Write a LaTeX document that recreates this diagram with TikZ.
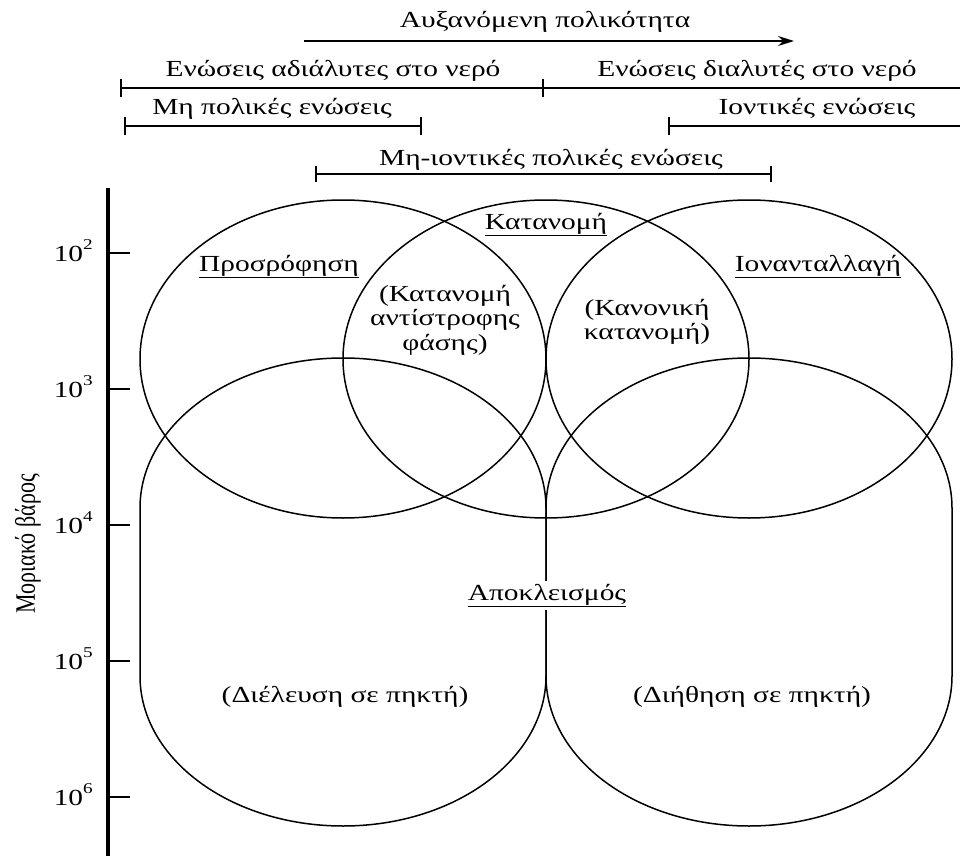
\documentclass[tikz,border=0pt]{standalone}
\usepackage{fontspec}
\setmainfont{Liberation Serif}[FakeStretch=1.28]
\newfontfamily\plainserif{Liberation Serif}
\usetikzlibrary{arrows.meta}
\begin{document}
\begin{tikzpicture}[x=1pt,y=-1pt,
  lbl/.style={font=\fontsize{23}{24.5}\selectfont, inner sep=0pt, anchor=base},
  mlbl/.style={font=\fontsize{23}{24.5}\selectfont, inner sep=0pt, align=center, anchor=center},
  bar/.style={line width=1.4pt},
  endtick/.style={line width=1.4pt},
  outline/.style={line width=1.5pt},
  axisline/.style={line width=3.6pt},
  axtick/.style={line width=1.3pt},
]
\useasboundingbox (0,0) rectangle (964,856);

% ---------------- top bars ----------------
\coordinate (arrS) at (304,41);
\coordinate (arrE) at (794,41);
\draw[bar,-{Stealth[length=16pt,width=10pt]}] (arrS) -- (arrE);
\node[lbl] (title) at (545,28) {Αυξανόμενη πολικότητα};

\coordinate (b1L) at (121,88);
\coordinate (b1M) at (543,88);
\coordinate (b1R) at (960,88);
\draw[bar] (b1L) -- (b1R);
\draw[endtick] ([yshift=-9pt]b1L) -- ([yshift=9pt]b1L);
\draw[endtick] ([yshift=-9pt]b1M) -- ([yshift=9pt]b1M);
\node[lbl] (insol) at (333,77) {Ενώσεις αδιάλυτες στο νερό};
\node[lbl] (sol) at (757,77) {Ενώσεις διαλυτές στο νερό};

\coordinate (b2L) at (125,126);
\coordinate (b2R) at (421,126);
\draw[bar] (b2L) -- (b2R);
\draw[endtick] ([yshift=-9pt]b2L) -- ([yshift=9pt]b2L);
\draw[endtick] ([yshift=-9pt]b2R) -- ([yshift=9pt]b2R);
\node[lbl] (nonpol) at (272,115) {Μη πολικές ενώσεις};

\coordinate (b3L) at (669,126);
\coordinate (b3R) at (960,126);
\draw[bar] (b3L) -- (b3R);
\draw[endtick] ([yshift=-9pt]b3L) -- ([yshift=9pt]b3L);
\node[lbl] (ionic) at (817,115) {Ιοντικές ενώσεις};

\coordinate (b4L) at (316,174);
\coordinate (b4R) at (771,174);
\draw[bar] (b4L) -- (b4R);
\draw[endtick] ([yshift=-8pt]b4L) -- ([yshift=8pt]b4L);
\draw[endtick] ([yshift=-8pt]b4R) -- ([yshift=8pt]b4R);
\node[lbl] (nonionpol) at (551,165) {Μη-ιοντικές πολικές ενώσεις};

% ---------------- axis ----------------
\coordinate (axT) at (108,188);
\coordinate (axB) at (108,856);
\draw[axisline] (axT) -- (axB);
\foreach \e/\yy in {2/253,3/389,4/525,5/661,6/797}{
  \draw[axtick] (108,\yy) -- (130,\yy);
  \node[lbl, anchor=base east] (tick\e) at (93,\yy+8)
    {10\raisebox{12pt}{\fontsize{15}{15}\selectfont\e}};
}
\node[inner sep=0pt] (ylabel) at (28,544)
  {\scalebox{1.28}[1]{\rotatebox{90}{\plainserif\fontsize{22}{24}\selectfont Μοριακό βάρος}}};

% ---------------- shapes ----------------
\draw[outline] (343,359) ellipse [x radius=203pt, y radius=159pt];
\draw[outline] (546,359) ellipse [x radius=203pt, y radius=159pt];
\draw[outline] (749,359) ellipse [x radius=203pt, y radius=159pt];

\draw[outline] (140,508) arc[start angle=180, end angle=0, x radius=203pt, y radius=150pt]
   -- (546,676) arc[start angle=0, end angle=-180, x radius=203pt, y radius=150pt] -- cycle;
\draw[outline] (546,508) arc[start angle=180, end angle=0, x radius=203pt, y radius=150pt]
   -- (952,676) arc[start angle=0, end angle=-180, x radius=203pt, y radius=150pt] -- cycle;

% ---------------- labels in shapes ----------------
\node[lbl] (part) at (546,229) {\underline{Κατανομή}};
\node[lbl] (ads) at (279,271) {\underline{Προσρόφηση}};
\node[lbl] (iex) at (818,271) {\underline{Ιονανταλλαγή}};
\node[mlbl] (rp) at (445,320) {(Κατανομή\\αντίστροφης\\φάσης)};
\node[mlbl] (np) at (647,322) {(Κανονική\\κατανομή)};
\node[lbl] (gpc) at (345,702) {(Διέλευση σε πηκτή)};
\node[lbl] (gfc) at (752,702) {(Διήθηση σε πηκτή)};
\node[lbl, fill=white, inner sep=3pt] (excl) at (547,600) {\underline{Αποκλεισμός}};
\end{tikzpicture}
\end{document}
